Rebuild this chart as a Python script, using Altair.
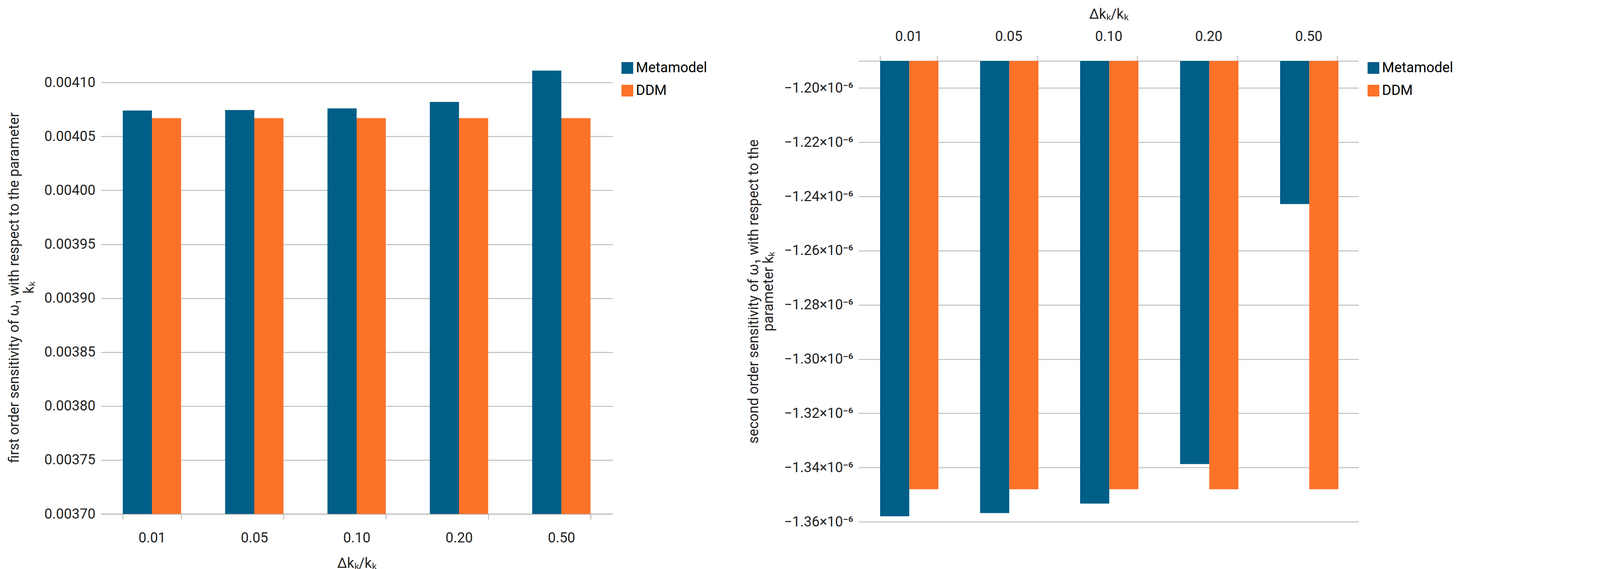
import altair as alt
import pandas as pd

steps = ["0.01", "0.05", "0.10", "0.20", "0.50"]
series = ["Metamodel", "DDM"]
first_meta = [0.004074, 0.0040745, 0.004076, 0.004082, 0.004111]
first_ddm = [0.004067, 0.004067, 0.004067, 0.004067, 0.004067]
second_meta = [-1.358e-6, -1.3568e-6, -1.3533e-6, -1.3387e-6, -1.2428e-6]
second_ddm = [-1.348e-6, -1.348e-6, -1.348e-6, -1.348e-6, -1.348e-6]

first = pd.DataFrame({
    "step": steps * 2,
    "series": ["Metamodel"] * 5 + ["DDM"] * 5,
    "value": first_meta + first_ddm,
})
second = pd.DataFrame({
    "step": steps * 2,
    "series": ["Metamodel"] * 5 + ["DDM"] * 5,
    "value": second_meta + second_ddm,
})

FONT = "Roboto"
color = alt.Color("series:N", sort=series, title=None,
                  scale=alt.Scale(domain=series, range=["#005F87", "#FD7229"]),
                  legend=alt.Legend(orient="right", labelFontSize=36, labelFont=FONT,
                                    labelLimit=400, symbolType="square", symbolSize=900,
                                    rowPadding=22, offset=20, symbolStrokeWidth=0))
xscale = alt.Scale(paddingInner=0.43, paddingOuter=0.215)

left = alt.Chart(first).mark_bar().encode(
    x=alt.X("step:N", sort=steps, scale=xscale, title="Δkₖ/kₖ",
            axis=alt.Axis(labelAngle=0, labelPadding=30, titlePadding=30, tickSize=14,
                          tickBand="extent")),
    xOffset=alt.XOffset("series:N", sort=series),
    y=alt.Y("value:Q", title=["first order sensitivity of ω₁ with respect to the parameter", "kₖ"],
            scale=alt.Scale(domain=[0.0037, 0.00412], zero=False),
            axis=alt.Axis(format=".5f", values=[0.0037 + i * 0.00005 for i in range(9)],
                          tickSize=0, labelPadding=14, titlePadding=20, domain=False)),
    y2=alt.datum(0.0037),
    color=color,
).properties(width=1310, height=1160)

right = alt.Chart(second).mark_bar().encode(
    x=alt.X("step:N", sort=steps, scale=xscale, title="Δkₖ/kₖ",
            axis=alt.Axis(orient="top", labelAngle=0, labelPadding=30, titlePadding=20,
                          tickSize=14, tickBand="extent")),
    xOffset=alt.XOffset("series:N", sort=series),
    y=alt.Y("value:Q", title=["second order sensitivity of ω₁ with respect to the", "parameter kₖ"],
            scale=alt.Scale(domain=[-1.36e-6, -1.19e-6], zero=False),
            axis=alt.Axis(values=[-1.36e-6 + i * 0.02e-6 for i in range(9)],
                          labelExpr="replace(format(datum.value * 1e6, '.2f'), '-', '−') + '×10⁻⁶'",
                          tickSize=0, labelPadding=14, titlePadding=20, domain=False)),
    y2=alt.datum(-1.19e-6),
    color=color,
).properties(width=1280, height=1180)

chart = alt.hconcat(left, right, spacing=100).resolve_scale(
    color="independent", x="independent", y="independent"
).configure(background="white", padding=10).configure_view(stroke=None).configure_axis(
    labelFont=FONT, titleFont=FONT, labelFontSize=36, titleFontSize=36,
    titleFontWeight="normal", labelColor="#222", titleColor="#222",
    gridColor="#b0b0b0", gridWidth=2, domainColor="#b0b0b0", domainWidth=2,
    tickColor="#b0b0b0", tickWidth=2,
).configure_axisX(grid=False)

chart.save("out.html", embed_options={"renderer": "svg", "actions": False})
